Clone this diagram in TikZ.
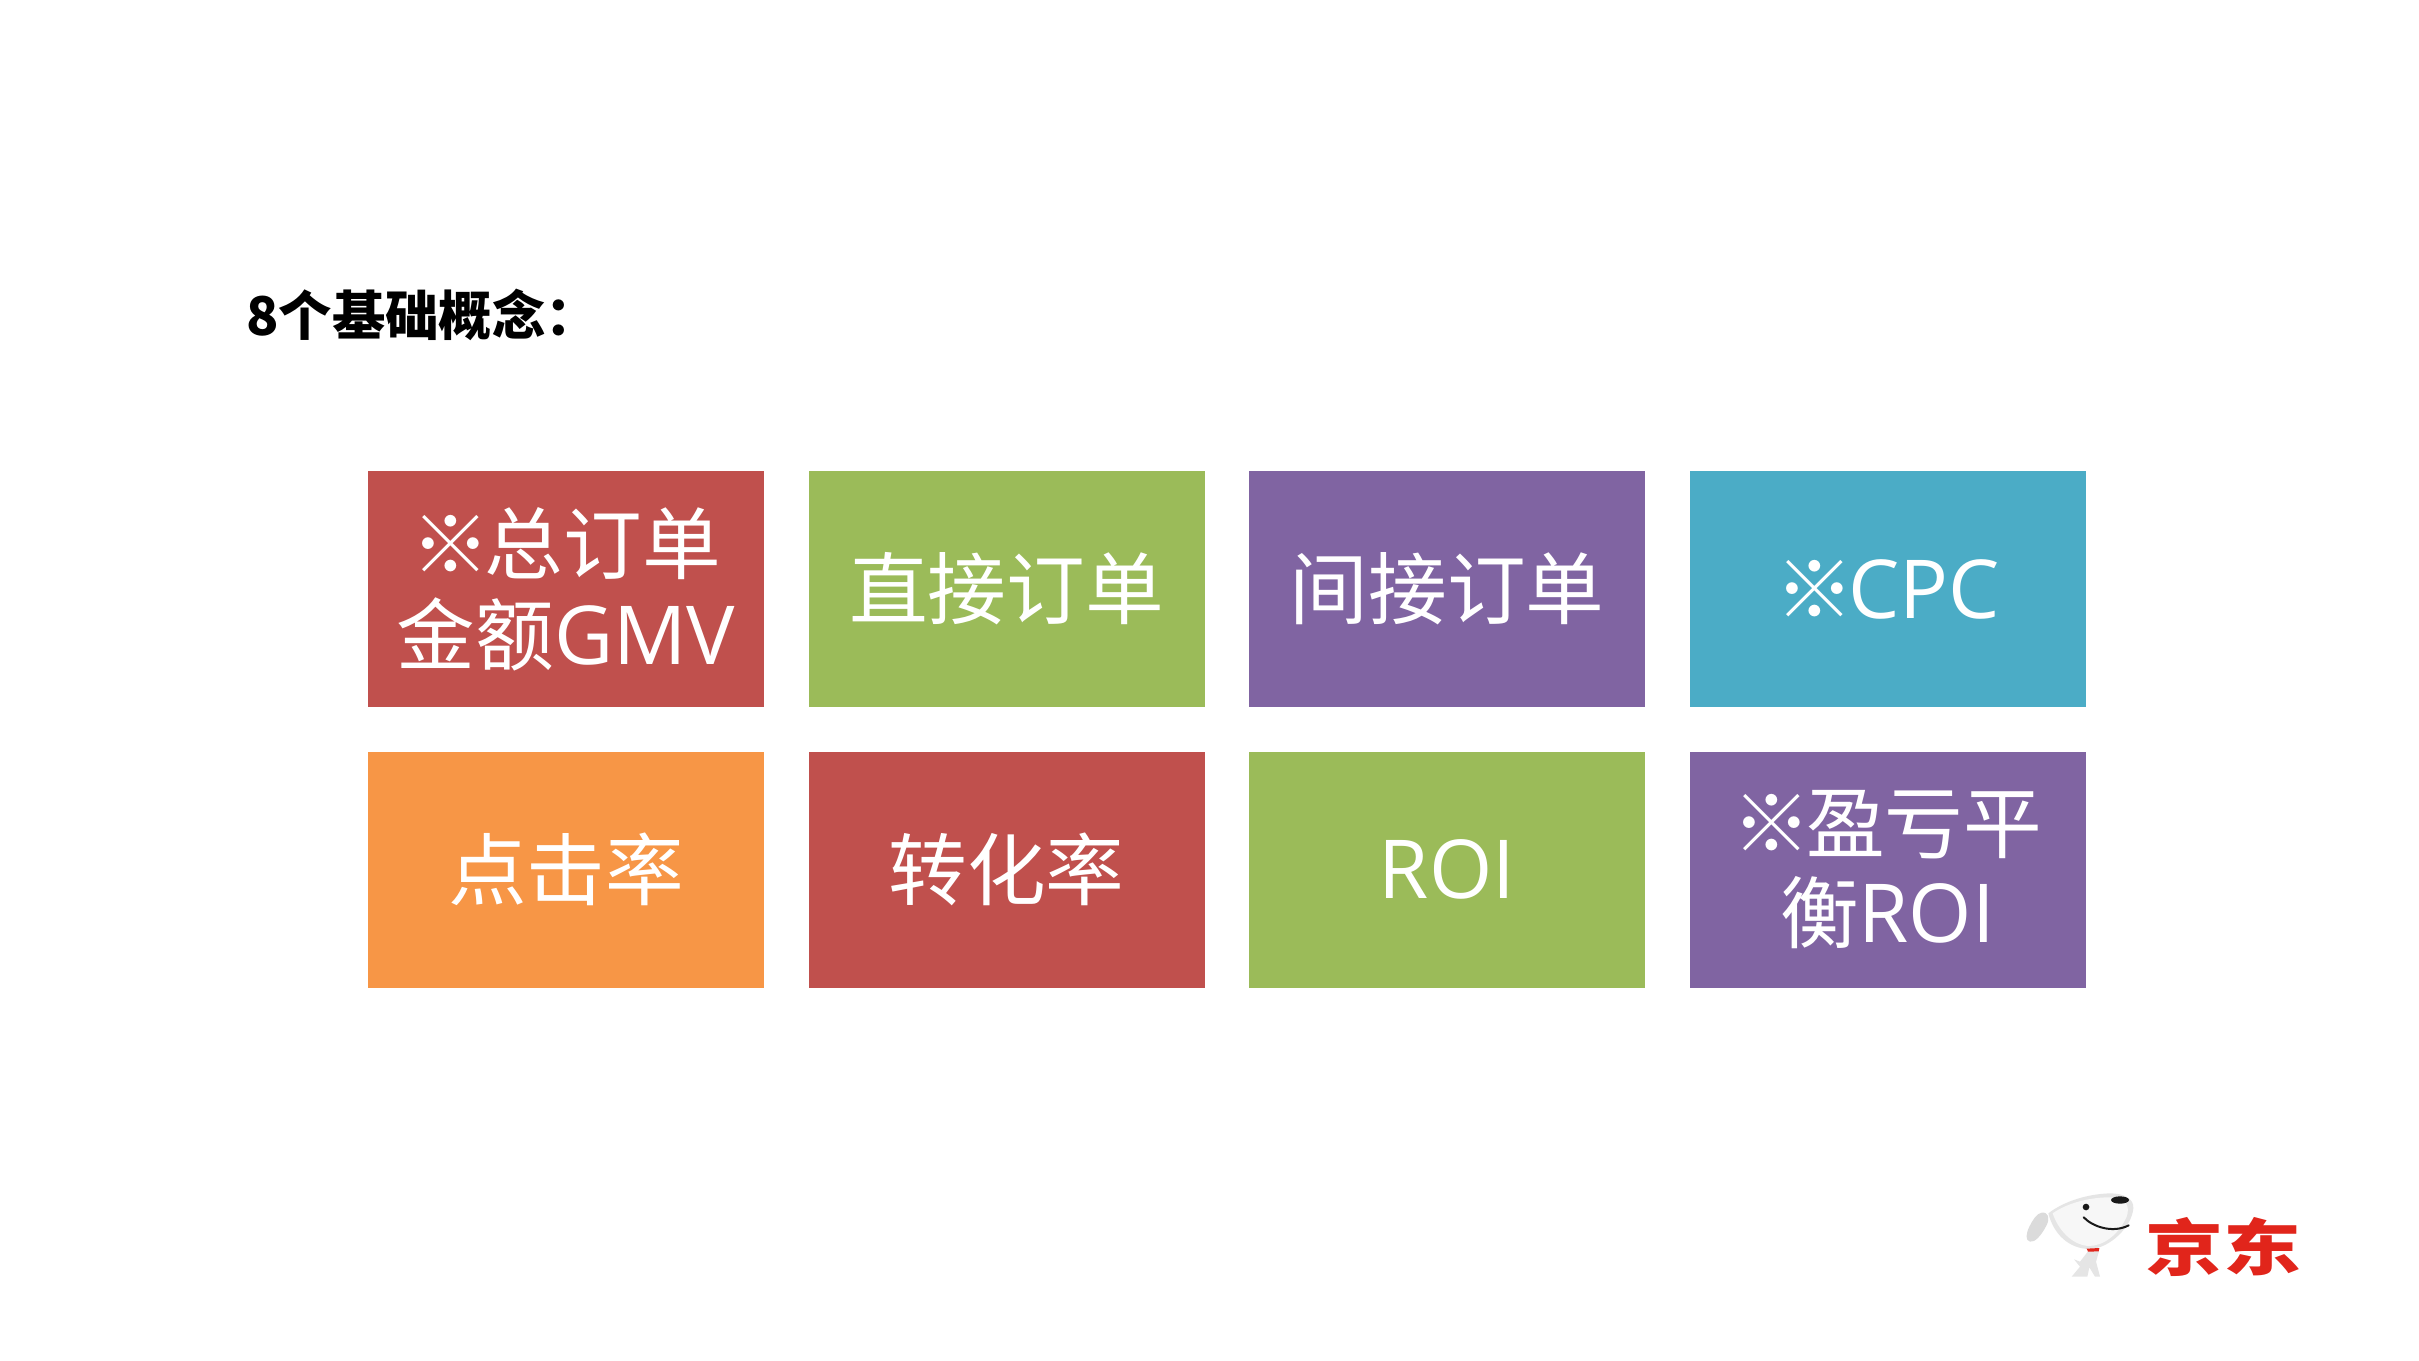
\documentclass[tikz,border=0pt]{standalone}
\usepackage{fontspec}
\setmainfont{Noto Sans CJK SC}
\newfontfamily\latinf{Open Sans}
\newfontfamily\cjk{Noto Sans CJK SC}
\definecolor{cred}{HTML}{C0504D}
\definecolor{cgreen}{HTML}{9BBB59}
\definecolor{cpurple}{HTML}{8064A2}
\definecolor{cblue}{HTML}{4BACC6}
\definecolor{corange}{HTML}{F79646}
\definecolor{jdred}{HTML}{E1251B}
\tikzset{
  tile/.style={minimum width=297pt,minimum height=177pt,inner sep=0pt,outer sep=0pt,
    text=white,align=center,font=\fontsize{59pt}{68pt}\selectfont},
  doggrey/.style={fill=#1,draw=none}
}
\newcommand{\lat}[1]{{\latinf\fontsize{61pt}{68pt}\selectfont #1}}
\newcommand{\mk}{※\kern-4pt}
\begin{document}
\begin{tikzpicture}[x=0.75pt,y=-0.75pt]
\useasboundingbox (0,0) rectangle (2419,1360);
\fill[white] (0,0) rectangle (2419,1360);
\node[anchor=west,inner sep=0pt,font=\fontsize{40pt}{46pt}\selectfont\bfseries] (title) at (246,315) {8个基础概念：};
\node[tile,fill=cred] (a1) at (566,589) {\mk 总订单\\金额\lat{GMV}};
\node[tile,fill=cgreen] (a2) at (1006.5,589) {直接订单};
\node[tile,fill=cpurple] (a3) at (1447,589) {间接订单};
\node[tile,fill=cblue] (a4) at (1887.5,589) {\mk\lat{CPC}};
\node[tile,fill=corange] (b1) at (566,869.5) {点击率};
\node[tile,fill=cred] (b2) at (1006.5,869.5) {转化率};
\node[tile,fill=cgreen] (b3) at (1447,869.5) {\lat{ROI}};
\node[tile,fill=cpurple] (b4) at (1887.5,869.5) {\mk 盈亏平\\衡\lat{ROI}};
\begin{scope}[shift={(2000,1170)},x=0.25pt,y=-0.25pt]
  % ear
  \fill[doggrey=black!14] (125,128) .. controls (145,125) and (150,145) .. (140,165) .. controls (125,195) and (105,218) .. (90,215) .. controls (75,212) and (78,190) .. (88,170) .. controls (98,150) and (110,130) .. (125,128) -- cycle;
  % body
  \fill[doggrey=black!10] (265,243) -- (297,243) -- (288,275) -- (300,320) -- (285,320) -- (268,292) -- (262,320) -- (215,320) -- (240,290) -- (222,268) -- (240,275) -- cycle;
  % head
  \fill[doggrey=black!10] (145,130) .. controls (190,95) and (260,72) .. (330,70) .. controls (370,70) and (402,85) .. (400,115) .. controls (395,170) and (330,235) .. (270,237) .. controls (205,237) and (160,190) .. (145,130) -- cycle;
  \fill[doggrey=black!3] (158,130) .. controls (200,100) and (270,80) .. (340,82) .. controls (380,86) and (390,110) .. (380,140) .. controls (355,195) and (310,228) .. (265,228) .. controls (215,224) and (175,180) .. (158,130) -- cycle;
  % collar
  \fill[doggrey=jdred] (260,236) -- (298,234) -- (296,244) -- (264,245) -- cycle;
  % nose, eye, smile
  \fill[black!90] (360,90) ellipse [x radius=27,y radius=11];
  \fill[black!90] (258,111) circle [radius=10];
  \draw[black!90,line width=1.5pt,line cap=round] (251,142) .. controls (280,172) and (340,190) .. (386,166);
  % wordmark
  \node[text=jdred,inner sep=0pt,font=\fontsize{46pt}{46pt}\selectfont\bfseries] (logo) at (669,232) {\scalebox{1.27}[1]{京东}};
\end{scope}
\end{tikzpicture}
\end{document}
